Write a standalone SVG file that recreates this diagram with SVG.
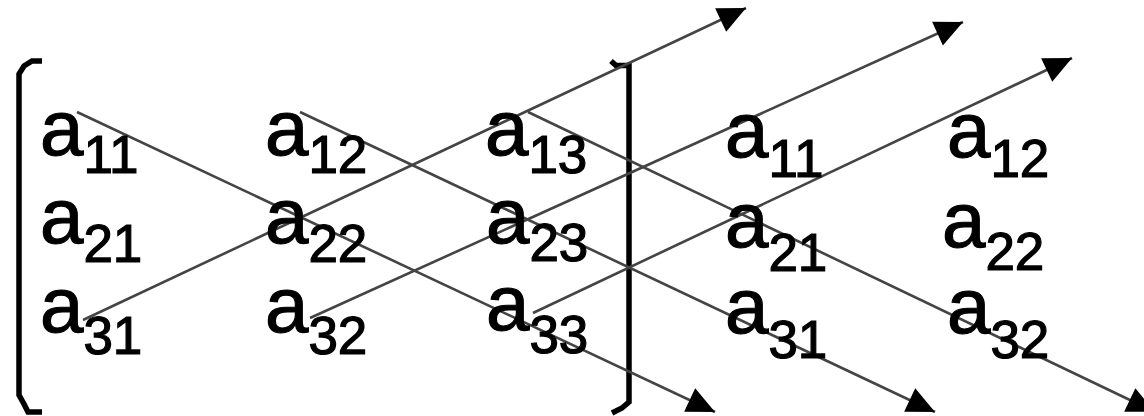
<svg xmlns="http://www.w3.org/2000/svg" width="1144" height="416" viewBox="0 0 1144 416">
<style>
.t{font-family:"Liberation Sans",Arial,sans-serif;font-size:78px;fill:#000;stroke:#000;stroke-width:1.2}
.s{font-size:53px}
.c{fill:none;stroke:#444;stroke-width:2.6}
.br{fill:none;stroke:#000;stroke-width:5.5;stroke-linejoin:miter}
</style>
<defs>
<marker id="ah" markerUnits="userSpaceOnUse" markerWidth="30" markerHeight="28" viewBox="0 -14 29 28" refX="28" refY="0" orient="auto">
<path d="M0,-13 L28,0 L0,13 Z" fill="#000"/>
</marker>
</defs>
<rect width="1144" height="416" fill="#fff"/>
<g id="brackets">
<path class="br" d="M42,61 H32 L24,66 L19,74 V395 L24,404 L28,412 H42"/>
<path class="br" d="M611,61 L616,65.5 H629 V402 L622,408 L612,413"/>
</g>
<g id="connectors">
<path class="c" d="M77,112 L715,412" marker-end="url(#ah)"/>
<path class="c" d="M300,112 L935,412" marker-end="url(#ah)"/>
<path class="c" d="M528,112 L1155,412" marker-end="url(#ah)"/>
<path class="c" d="M83,320 L746,8" marker-end="url(#ah)"/>
<path class="c" d="M310,318 L963,22" marker-end="url(#ah)"/>
<path class="c" d="M533,313 L1072,58" marker-end="url(#ah)"/>
</g>
<g id="n11"><text class="t" x="40" y="155">a<tspan class="s" dy="18">11</tspan></text></g>
<g id="n12"><text class="t" x="265" y="155">a<tspan class="s" dy="18">12</tspan></text></g>
<g id="n13"><text class="t" x="485" y="155">a<tspan class="s" dy="18">13</tspan></text></g>
<g id="n21"><text class="t" x="40" y="243">a<tspan class="s" dy="19">21</tspan></text></g>
<g id="n22"><text class="t" x="265" y="243">a<tspan class="s" dy="19">22</tspan></text></g>
<g id="n23"><text class="t" x="486" y="243">a<tspan class="s" dy="18">23</tspan></text></g>
<g id="n31"><text class="t" x="40" y="332">a<tspan class="s" dy="22">31</tspan></text></g>
<g id="n32"><text class="t" x="265" y="332">a<tspan class="s" dy="22">32</tspan></text></g>
<g id="n33"><text class="t" x="486" y="330">a<tspan class="s" dy="23">33</tspan></text></g>
<g id="r11"><text class="t" x="725" y="157">a<tspan class="s" dy="20">11</tspan></text></g>
<g id="r12"><text class="t" x="947" y="157">a<tspan class="s" dy="20">12</tspan></text></g>
<g id="r21"><text class="t" x="725" y="247">a<tspan class="s" dy="24">21</tspan></text></g>
<g id="r22"><text class="t" x="942" y="247">a<tspan class="s" dy="23">22</tspan></text></g>
<g id="r31"><text class="t" x="725" y="333">a<tspan class="s" dy="25">31</tspan></text></g>
<g id="r32"><text class="t" x="947" y="333">a<tspan class="s" dy="25">32</tspan></text></g>
</svg>
